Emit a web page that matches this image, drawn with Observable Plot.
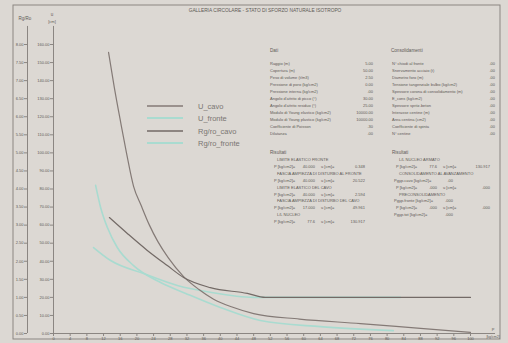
<!DOCTYPE html>
<html><head><meta charset="utf-8">
<script src="https://cdn.jsdelivr.net/npm/d3@7"></script>
<script src="https://cdn.jsdelivr.net/npm/@observablehq/plot@0.6"></script>
<style>
html,body{margin:0;padding:0;background:#dcd8d3;}
#chart{width:508px;height:343px;overflow:hidden;}
</style></head><body><div id="chart"></div>
<script>
// x: P [kg/cm2]; U in cm (inner axis); Rg/ro ratio (outer axis)
const uCavoX = [13.2,14.6,16.1,17.5,19.2,21,23,25,27.5,31.2,34.8,38.4,43,48,59,73.6,88,100];
const uCavoY = [155.6,136,117,100,81.5,71,60,51,42,31.5,24.5,19,14.5,11,8,5.5,2.8,0.6];
const uFronteX = [10.1,11.3,12.9,15.3,19.2,25.7,31.7,40.0,49.6,64.0,81.5];
const uFronteY = [82.0,69.8,58.8,47.6,37.6,28.2,22.2,14.4,7.2,3.8,1.6];
const rgCavoX = [13.4,17.7,22.5,27.3,31.2,37.6,46.5,50.8,100];
const rgCavoY = [3.21,2.77,2.30,1.88,1.55,1.27,1.11,1.00,1.00];
const rgFronteX = [9.6,13.7,21.6,29.7,37.6,48.0,83.2];
const rgFronteY = [2.38,2.02,1.66,1.33,1.14,1.00,1.00];

const seriesNames = ["U_cavo","U_fronte","Rg/ro_cavo","Rg/ro_fronte"];
const seriesColors = ["#847a76","#a9dbd0","#736a66","#a9dbd0"];

const uTicks = d3.range(0,161,10);
const xTicks = d3.range(0,101,4);
const rgPerU = 1/20; // outer axis Rg/Ro = u/20

const title = "GALLERIA CIRCOLARE - STATO DI SFORZO NATURALE ISOTROPO";
const datiLabels = ["Raggio (m)","Copertura (m)","Peso di volume (t/m3)","Pressione di poro (kg/cm2)","Pressione interna (kg/cm2)","Angolo d'attrito di picco (°)","Angolo d'attrito residuo (°)","Modulo di Young elastico (kg/cm2)","Modulo di Young plastico (kg/cm2)","Coefficiente di Poisson","Dilatanza"];
const datiValues = ["5.00","50.00","2.50","0.00",".00","30.00","25.00","10000.00","10000.00",".30",".00"];
const consLabels = ["N° chiodi al fronte","Snervamento acciaio (t)","Diametro foro (m)","Tensione tangenziale bulbo (kg/cm2)","Spessore corona di consolidamento (m)","E_cons (kg/cm2)","Spessore spritz-beton","Interasse centine (m)","Area centina (cm2)","Coefficiente di spinta","N° centine"];
const consValues = [".00",".00",".00",".00",".00",".00",".00",".00",".00",".00",".00"];
const risLeft = [
  ["h","LIMITE ELASTICO FRONTE"],["p","40.000","0.348"],
  ["h","FASCIA AMPIEZZA DI DISTURBO AL FRONTE"],["p","40.000","20.522"],
  ["h","LIMITE ELASTICO DEL CAVO"],["p","40.000","2.594"],
  ["h","FASCIA AMPIEZZA DI DISTURBO DEL CAVO"],["p","17.000","49.961"],
  ["h","L/L NUCLEO"],["p","77.6","130.917"]
];
const risRight = [
  ["h","L/L NUCLEO ARMATO"],["p","77.6","130.917"],
  ["h","CONSOLIDAMENTO AL AVANZAMENTO"],["q","Pgyp.cavo [kg/cm2]=",".00"],["p",".000",".000"],
  ["h","PRECONSOLIDAMENTO"],["q","Pgyp.fronte [kg/cm2]=",".000"],["p",".000",".000"],
  ["q","Pgyp.tot [kg/cm2]=",".000"]
];

const mk = (xs, ys, f=1) => xs.map((x,i)=>({x, y: ys[i]*f}));
const uCavo = mk(uCavoX,uCavoY), uFronte = mk(uFronteX,uFronteY);
const rgCavo = mk(rgCavoX,rgCavoY,1/rgPerU), rgFronte = mk(rgFronteX,rgFronteY,1/rgPerU);

const axisC = "#8b8682", txtC = "#5e5a56";
const chart = Plot.plot({
  width:508, height:343, marginLeft:53, marginRight:38, marginTop:44, marginBottom:10,
  style:{background:"#dcd8d3", fontFamily:"'Liberation Sans', Arial, sans-serif", fontSize:"4px", color:txtC},
  x:{domain:[0,100]}, y:{domain:[0,160]},
  marks:[
    Plot.ruleX([0],{y1:0,y2:170,stroke:axisC}),
    Plot.ruleX([0],{y1:0,y2:170,stroke:axisC,dx:-26}),
    Plot.ruleY([0],{x1:0,x2:106,stroke:axisC}),
    Plot.axisY({ticks:uTicks, tickSize:3, tickPadding:1, tickFormat:d=>d.toFixed(2), label:null, stroke:axisC, fontSize:4}),
    Plot.axisY({ticks:uTicks, tickSize:3, tickPadding:1, dx:-26, tickFormat:d=>(d*rgPerU).toFixed(2), label:null, stroke:axisC, fontSize:4}),
    Plot.axisX({ticks:xTicks, tickSize:3, tickPadding:1, label:null, stroke:axisC, fontSize:4}),
    Plot.line(uFronte,{x:"x",y:"y",stroke:seriesColors[1],strokeWidth:1.6,curve:"monotone-x"}),
    Plot.line(rgFronte,{x:"x",y:"y",stroke:seriesColors[3],strokeWidth:1.6,curve:"monotone-x"}),
    Plot.line(uCavo,{x:"x",y:"y",stroke:seriesColors[0],strokeWidth:1.2,curve:"monotone-x"}),
    Plot.line(rgCavo,{x:"x",y:"y",stroke:seriesColors[2],strokeWidth:1.2,curve:"monotone-x"})
  ]
});
document.getElementById("chart").appendChild(chart);

const svg = d3.select(chart);
const font = "'Liberation Sans', Arial, sans-serif";
const g = svg.append("g").attr("font-family",font).attr("fill",txtC);
svg.insert("rect",":first-child").attr("x",13).attr("y",5).attr("width",487).attr("height",334)
  .attr("fill","none").attr("stroke",axisC).attr("stroke-width",1);
const t = (x,y,s,size=4,anchor="start") => g.append("text").attr("x",x).attr("y",y).attr("font-size",size).attr("text-anchor",anchor).text(s);

t(265,12,title,4.8,"middle");
t(25,20,"Rg/Ro",4.5,"middle");
t(52,16,"u",4.5,"middle");
t(52,23,"[cm]",4,"middle");
t(493,331,"P",4,"middle");
t(493,338,"[kg/cm2]",3.5,"middle");

// legend
seriesNames.forEach((n,i)=>{
  const y = [106,118,131,143][i];
  g.append("line").attr("x1",147).attr("x2",183).attr("y1",y).attr("y2",y)
    .attr("stroke",seriesColors[i]).attr("stroke-width",i%2? 2.2:1.4);
  t(198,y+2.5,n,7.5).attr("fill","#7a7672");
});

// Dati
t(270,52,"Dati",4.6);
datiLabels.forEach((l,i)=>{ const y=65+i*7; t(270,y,l); t(373,y,datiValues[i],4,"end"); });
t(391,52,"Consolidamenti",4.6);
consLabels.forEach((l,i)=>{ const y=65+i*7; t(392,y,l); t(495,y,consValues[i],4,"end"); });

function ris(x0,rows,xr){
  rows.forEach((r,i)=>{
    const y=161+i*6.9;
    if(r[0]==="h") t(x0+8,y,r[1]);
    else if(r[0]==="q"){ t(x0+3,y,r[1]); t(x0+62,y,r[2],4,"end"); }
    else { t(x0+5,y,"P [kg/cm2]="); t(x0+46,y,r[1],4,"end"); t(x0+52,y,"u [cm]="); t(xr,y,r[2],4,"end"); }
  });
}
t(270,154,"Risultati",4.6); ris(269,risLeft,365);
t(392,154,"Risultati",4.6); ris(391,risRight,490);
</script></body></html>
